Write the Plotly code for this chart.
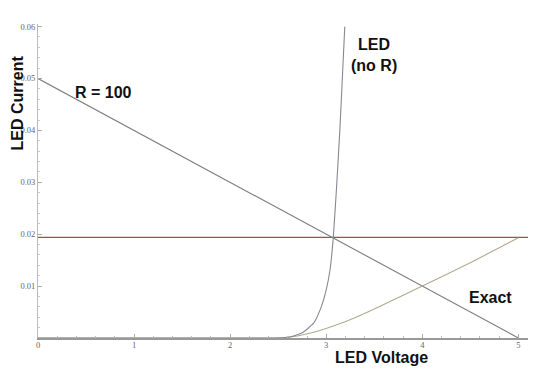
import plotly.graph_objects as go

# Load line R = 100 (current vs LED voltage)
r_x = [0, 5]
r_y = [0.05, 0.0]

# LED alone (no resistor)
led_x = [0, 2.4, 2.57, 2.66, 2.75, 2.87, 2.95, 3.0, 3.04, 3.073, 3.108, 3.142, 3.17, 3.193]
led_y = [0, 0, 0.0001, 0.0004, 0.001, 0.0029, 0.0061, 0.0093, 0.0132, 0.0193, 0.0292, 0.0402, 0.051, 0.06]

# Exact curve
ex_x = [0, 2.5, 2.58, 2.70, 2.85, 3.16, 3.37, 3.56, 4.0, 4.52, 5.0]
ex_y = [0, 0, 0.0001, 0.0004, 0.001, 0.0029, 0.0045, 0.0061, 0.0100, 0.0147, 0.0193]

# Operating current (horizontal line)
op_x = [0, 5.1]
op_y = [0.0194, 0.0194]

x_ticks = [0, 1, 2, 3, 4, 5]
y_ticks = [0.01, 0.02, 0.03, 0.04, 0.05, 0.06]
y_tick_text = ["0.01", "0.02", "0.03", "0.04", "0.05", "0.06"]

fig = go.Figure()
fig.add_trace(go.Scatter(x=op_x, y=op_y, mode="lines", line=dict(color="#a24d55", width=1.2)))
fig.add_trace(go.Scatter(x=r_x, y=r_y, mode="lines", line=dict(color="#7c7c80", width=1.1)))
fig.add_trace(go.Scatter(x=ex_x, y=ex_y, mode="lines", line=dict(color="#b3a98f", width=1.1, shape="spline", smoothing=0.5)))
fig.add_trace(go.Scatter(x=led_x, y=led_y, mode="lines", line=dict(color="#8a8794", width=1.1, shape="spline", smoothing=0.5)))

tickfont = dict(family="Liberation Serif, DejaVu Serif, serif", size=8.5, color="#666666")
lblfont = dict(family="Liberation Sans, Arial, sans-serif", size=16, color="#111111")

# the page body adds an 8px offset, so the figure is sized/margined to compensate
fig.update_layout(
    width=532, height=360,
    margin=dict(l=26, r=12, t=16, b=30),
    paper_bgcolor="white", plot_bgcolor="white",
    showlegend=False,
    xaxis=dict(range=[0, 5.1], tickvals=x_ticks, ticks="inside", ticklen=4, tickcolor="#aaaaaa",
               showline=True, linecolor="#999999", linewidth=1.5, showgrid=False, zeroline=False,
               tickfont=tickfont, ticklabelstandoff=-2,
               minor=dict(ticks="inside", ticklen=2, dtick=0.2, tickcolor="#bbbbbb", showgrid=False)),
    yaxis=dict(range=[0, 0.0605], tickvals=y_ticks, ticktext=y_tick_text, ticks="inside", ticklen=4,
               tickcolor="#aaaaaa", showline=True, linecolor="#bbbbbb", linewidth=1, showgrid=False,
               zeroline=False, tickfont=tickfont, ticklabelstandoff=0,
               minor=dict(ticks="inside", ticklen=2, dtick=0.002, tickcolor="#cccccc", showgrid=False)),
    annotations=[
        dict(x=0.68, y=0.0473, text="<b>R = 100</b>", showarrow=False, font=lblfont),
        dict(x=3.5, y=0.0545, text="<b>LED<br>(no R)</b>", showarrow=False, font=lblfont, align="center"),
        dict(x=4.71, y=0.0078, text="<b>Exact</b>", showarrow=False, font=lblfont),
        dict(x=3.58, xref="x", y=-0.061, yref="paper", text="<b>LED Voltage</b>", showarrow=False,
             font=lblfont, yanchor="middle"),
        dict(x=-0.041, xref="paper", y=0.75, yref="paper", text="<b>LED Current</b>", showarrow=False,
             font=lblfont, textangle=-90, xanchor="center", yanchor="middle"),
    ],
)

fig.write_html("out.html")
